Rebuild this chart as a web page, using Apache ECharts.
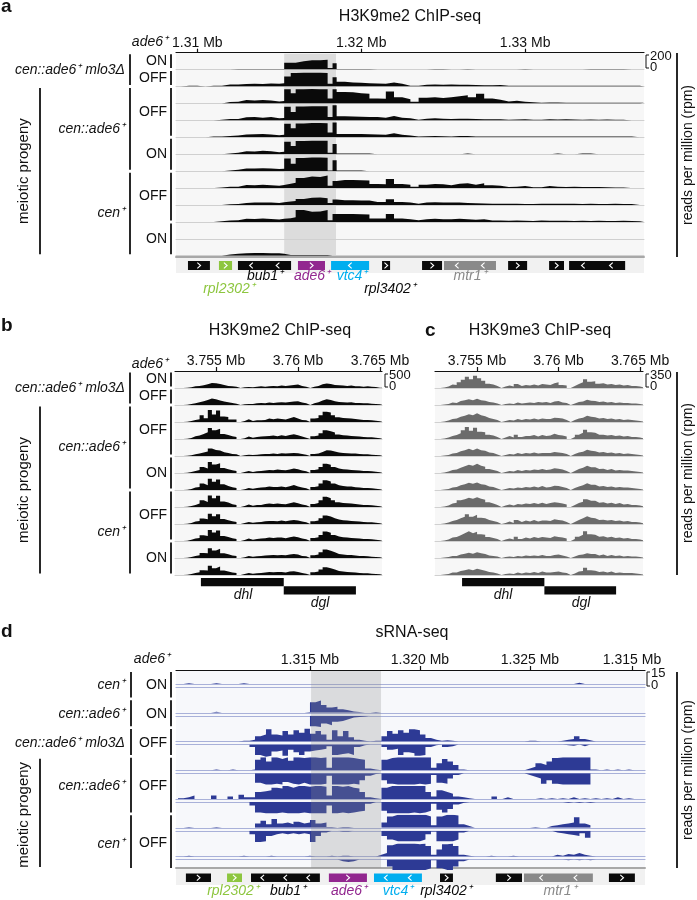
<!DOCTYPE html>
<html>
<head>
<meta charset="utf-8">
<title>ChIP-seq / sRNA-seq tracks</title>
<script src="https://cdn.jsdelivr.net/npm/echarts@6.0.0/dist/echarts.min.js"></script>
<style>
html,body{margin:0;padding:0;background:#ffffff;}
#chart{width:697px;height:900px;}
</style>
</head>
<body>
<div id="chart"></div>
<script>
// ====================== DATA ======================
// ---- Panel a: H3K9me2 ChIP-seq, ade6 locus (bin starts in kb; rpm, scale 0-200)
const binsA = [1308.6,1309,1309.5,1310,1310.5,1311,1311.5,1312,1312.5,1313,1313.5,1314,1314.5,1315,1315.3,1315.7,1316.0,1316.5,1317.0,1317.5,1317.95,1318.25,1318.5,1319,1319.5,1320,1320.5,1321,1321.5,1322,1322.5,1323,1323.5,1324,1324.5,1325,1325.5,1326,1326.5,1327,1327.5,1328,1328.5,1329,1329.5,1330,1330.5,1331,1331.5,1332,1332.5,1333,1333.5,1334,1334.5,1335,1335.5,1336,1336.5,1337];
const binsAEnd = 1337.25;
const a01_mlo3_ON  = [0,0,0,0,0,0,0,8,8,8, 8,8,8,8,80,80,100,110,112,118, 20,75,8,8,8,8,0,0,0,0, 0,0,0,8,8,0,0,8,0,0, 0,0,0,0,8,0,0,0,0,0, 0,0,8,8,8,8,8,0,0,0];
const a02_mlo3_OFF = [0,8,8,0,8,10,24,24,30,34, 30,36,34,40,120,160,164,164,164,160, 32,110,56,48,44,40,36,32,48,32, 10,8,20,24,22,24,20,22,18,16, 14,18,8,8,8,8,8,8,8,8, 8,8,8,8,8,8,8,8,8,0];
const a03_cenade6_OFF1 = [0,0,0,0,0,0,16,20,40,36, 40,34,24,30,168,120,168,170,168,168, 60,168,136,132,120,116,60,56,140,72, 50,20,68,72,66,74,84,96,72,116, 60,44,24,32,20,14,8,10,12,8, 8,8,8,8,8,8,8,8,8,8];
const a04_cenade6_OFF2 = [0,0,0,0,0,8,16,16,36,40, 32,40,24,28,160,100,164,168,168,166, 40,180,48,46,44,40,40,30,52,30, 24,8,20,24,20,16,18,20,16,14, 12,12,8,10,12,8,8,12,10,12, 10,8,10,8,10,8,8,0,0,0];
const a05_cenade6_OFF3 = [0,0,0,0,8,8,16,20,32,36, 40,34,24,30,160,108,164,168,168,166, 56,176,40,40,38,36,32,30,48,30, 20,8,12,14,12,10,14,16,10,8, 8,8,8,8,8,8,8,8,8,8, 8,8,8,8,8,8,8,8,0,0];
const a06_cenade6_ON1 = [0,0,0,0,0,0,8,16,36,32, 40,36,24,30,148,96,156,160,160,158, 16,120,8,8,8,8,0,0,0,0, 0,0,0,0,0,0,0,8,0,0, 0,0,0,0,0,0,0,0,8,0, 0,8,8,0,0,0,0,0,0,0];
const a07_cenade6_ON2 = [0,0,0,0,0,0,8,16,32,30, 34,32,24,28,148,88,156,160,160,158, 8,128,8,8,8,0,0,0,0,0, 0,0,0,0,0,0,0,0,0,0, 0,0,0,0,0,0,0,0,0,0, 0,0,0,0,0,0,0,0,0,0];
const a08_cen_OFF1 = [0,0,0,0,0,8,16,16,36,32, 40,32,28,36,52,64,120,136,132,148, 28,84,96,96,92,88,48,44,108,48, 40,16,40,48,44,32,52,56,40,56, 32,28,14,16,24,10,10,24,16,14, 16,12,14,12,10,8,8,0,0,0];
const a09_cen_OFF2 = [0,0,0,0,0,0,8,12,24,28, 30,28,24,32,40,48,72,84,88,80, 24,64,56,56,54,52,36,36,68,36, 30,16,28,32,30,28,28,24,20,18, 16,16,14,14,12,12,14,16,14,14, 14,12,14,12,12,14,12,12,0,0];
const a10_cen_OFF3 = [0,0,0,0,0,8,16,20,36,34, 40,34,28,36,44,56,140,120,124,140, 20,92,92,92,90,88,40,40,92,40, 32,20,32,36,30,32,36,32,24,32, 18,16,14,16,14,12,16,14,14,14, 12,14,12,14,12,12,14,12,8,0];
const a11_cen_ON1 = [0,0,0,0,0,0,0,0,0,0, 0,0,0,0,0,0,0,0,0,0, 0,0,0,0,0,0,0,0,0,0, 0,0,0,0,0,0,0,0,0,0, 0,0,0,0,0,0,0,0,0,0, 0,0,0,0,0,0,0,0,0,0];
const a12_cen_ON2 = [0,0,0,0,0,0,16,24,28,32, 32,30,28,24,8,8,10,8,8,8, 0,0,0,0,0,0,0,0,0,0, 0,0,0,0,0,0,0,0,0,0, 0,0,0,0,0,0,0,0,0,0, 0,0,0,0,0,0,0,0,0,0];
const shadeA = [1315.3, 1318.46];
const ticksA = [1310, 1320, 1330];
const tickLabelsA = ['1.31 Mb', '1.32 Mb', '1.33 Mb'];
// genes (kb) for panel a
const geneStartA = [1309.43,1311.32,1312.48,1316.14,1318.16,1321.27,1323.71,1325.05,1328.96,1331.46,1332.68];
const geneEndA   = [1310.77,1312.12,1315.72,1317.79,1320.48,1321.76,1324.93,1328.22,1330.12,1332.37,1336.10];
const geneStrandA = [1,1,-1,1,-1,1,1,-1,1,1,-1];
const geneChevA   = [1,1,2,1,1,1,1,2,1,1,2];
const geneColorA  = [0,1,0,2,3,0,0,4,0,0,0];

// ---- Panels b / c: dh-dg repeats (bin start 3752.5 kb, 0.25 kb bins)
const binStartBC = 3752.5, binStepBC = 0.25;
const b01 = [0,0,10,20,50,60,80,110,150,140, 120,90,60,50,40,0,20,30,20,40, 50,40,50,60,50,70,60,70,90,100, 60,40,0,40,60,110,130,120,90,80, 70,60,70,50,50,40,50,40,30,10, 0,10];
const b02 = [0,0,10,30,50,80,110,150,190,170, 130,100,80,60,40,0,20,30,30,50, 60,50,70,60,70,80,70,90,100,110, 70,50,0,50,80,130,170,150,110,90, 80,70,80,60,60,50,50,40,30,20, 0,10];
const b03 = [0,0,10,30,60,80,200,110,350,220, 340,160,150,70,70,0,30,80,30,50, 50,60,100,80,100,90,70,110,150,100, 60,50,0,100,120,200,300,280,200,140, 120,110,100,90,70,60,60,50,40,20, 0,10];
const b04 = [0,0,10,30,80,100,150,200,320,260, 300,150,120,80,60,0,20,70,40,60, 70,80,90,100,80,110,90,120,140,110, 70,40,0,80,100,170,260,230,190,130, 110,100,90,80,70,60,50,50,40,20, 0,10];
const b05 = [0,0,10,20,50,70,100,130,220,180, 160,110,90,60,50,0,20,40,30,40, 50,60,60,70,60,80,70,80,90,80, 60,40,0,60,70,120,170,160,130,100, 90,80,70,70,60,50,50,40,30,20, 0,10];
const b06 = [0,0,10,30,60,90,180,130,320,250, 290,150,110,80,60,0,30,60,30,50, 60,70,90,80,100,90,80,100,130,110, 70,50,0,90,110,180,270,240,180,130, 110,100,90,80,70,60,60,50,40,20, 0,10];
const b07 = [0,0,10,30,70,90,190,140,330,240, 310,170,120,80,60,0,20,60,40,60, 70,80,100,90,90,100,80,110,150,100, 70,50,0,90,110,190,290,250,190,140, 120,100,100,80,70,60,60,50,40,20, 0,10];
const b08 = [0,0,10,30,60,100,200,150,340,260, 330,160,130,80,60,0,30,70,40,60, 60,90,100,90,100,90,80,110,140,110, 70,50,0,90,120,200,300,260,200,140, 120,110,100,90,70,60,60,50,40,20, 0,10];
const b09 = [0,0,10,30,70,90,160,140,300,230, 290,150,110,80,60,0,30,60,40,50, 60,80,90,90,80,100,80,100,120,100, 70,50,0,80,100,170,250,220,170,130, 110,100,90,80,70,60,50,50,40,20, 0,10];
const b10 = [0,0,10,40,70,90,170,150,320,250, 310,150,120,80,60,0,30,70,40,60, 70,80,100,90,100,100,80,110,130,110, 70,50,0,90,110,180,280,240,180,130, 110,100,90,80,70,60,60,50,40,20, 0,10];
const b11 = [0,0,10,30,60,80,150,140,290,220, 270,140,110,70,60,0,20,60,40,50, 60,70,80,90,80,90,80,100,120,100, 60,50,0,80,100,170,250,210,170,120, 100,90,90,70,60,60,50,40,30,20, 0,10];
const b12 = [0,0,10,30,60,80,140,130,270,200, 250,130,100,70,60,0,30,60,40,50, 60,70,90,80,90,90,70,100,110,90, 60,40,0,80,100,160,230,200,160,120, 100,90,80,70,60,50,50,40,30,20, 0,10];
const c01 = [0,10,30,70,60,120,170,230,180,250, 200,150,90,70,40,0,30,50,30,80, 40,60,50,70,50,80,70,60,100,120, 60,50,0,40,80,120,180,130,140,90, 100,70,80,60,70,50,60,40,40,30, 10,0];
const c02 = [0,10,20,50,40,80,100,120,100,130, 100,90,60,50,30,0,20,30,20,50, 30,40,50,40,60,50,60,40,70,80, 50,40,0,30,60,70,110,90,80,60, 70,50,60,40,50,40,40,30,30,20, 10,0];
const c03 = [0,10,30,60,70,110,130,160,140,180, 140,120,80,60,40,0,20,40,30,60, 40,60,50,70,50,70,60,60,90,80, 70,40,0,40,70,90,130,110,100,70, 80,60,70,50,60,40,50,40,30,20, 10,0];
const c04 = [0,10,30,60,80,120,180,245,170,230, 150,140,90,70,40,0,30,60,30,90, 40,60,60,80,50,80,60,70,110,80, 70,50,0,40,90,130,190,140,130,90, 90,70,80,60,70,50,60,40,40,30, 10,0];
const c05 = [0,10,20,50,60,100,120,150,120,155, 120,110,70,60,30,0,20,40,30,60, 40,60,50,70,50,60,60,60,80,70, 60,40,0,40,70,90,130,110,100,70, 80,60,70,50,60,40,50,40,30,20, 10,0];
const c06 = [0,10,30,60,70,110,140,170,150,190, 150,130,80,60,40,0,20,40,30,60, 40,60,50,70,60,80,60,70,100,90, 70,40,0,40,80,110,150,120,120,80, 90,60,80,50,60,50,50,40,30,20, 10,0];
const c07 = [0,10,20,50,60,100,120,150,130,155, 120,110,70,60,30,0,20,40,30,50, 40,60,50,70,50,80,50,60,90,80, 60,40,0,40,70,100,140,110,110,70, 80,60,70,50,60,50,50,40,30,20, 10,0];
const c08 = [0,10,30,70,90,140,160,190,170,200, 170,150,100,70,40,0,30,50,30,60, 50,70,60,80,60,90,60,80,100,90, 70,50,0,40,80,110,160,130,130,90, 100,70,90,60,80,50,60,40,40,30, 10,0];
const c09 = [0,10,30,60,80,120,150,200,150,190, 130,120,80,60,40,0,20,50,20,80, 40,70,50,80,50,70,70,60,100,80, 70,40,0,40,80,120,160,130,120,80, 90,70,80,60,70,50,60,40,40,30, 10,0];
const c10 = [0,10,30,70,80,120,160,200,160,190, 140,130,80,60,40,0,30,50,30,90, 40,70,50,80,60,80,70,60,100,80, 70,50,0,40,90,130,200,140,130,90, 100,70,90,60,70,50,60,40,40,30, 10,0];
const c11 = [0,10,20,40,40,70,90,110,90,120, 100,80,50,40,30,0,20,30,20,40, 30,50,40,50,40,60,40,40,60,70, 50,30,0,30,60,70,100,80,80,50, 70,40,60,40,50,30,40,30,30,20, 10,0];
const c12 = [0,10,20,50,50,80,100,120,100,130, 110,90,60,50,30,0,20,30,20,50, 30,50,40,60,40,70,50,50,60,70, 50,40,0,30,70,80,150,100,90,60, 70,50,70,40,50,40,40,40,30,20, 10,0];
const ticksBC = [3755, 3760, 3765];
const tickLabelsBC = ['3.755 Mb', '3.76 Mb', '3.765 Mb'];
const repeatNames = ['dhl', 'dgl'];
const repeatStart = [3754.08, 3759.13];
const repeatEnd   = [3759.13, 3763.53];

// ---- Panel d: sRNA-seq (bin start 1309.0 kb, 0.25 kb bins; rpm, + strand up / - strand down, scale 0-15)
const binStartD = 1309.0, binStepD = 0.25;
const d1_cen_ON_plus  = [0,1,0,0,0,0,1,0,0,0, 0,1,0,0,0,0,0,0,0,0, 0,0,0,0,0,0,0,0,0,0, 0,0,0,0,0,0,0,0,0,0, 0,0,0,0,0,0,0,0,0,0, 0,0,0,0,0,0,0,0,0,0, 0,0,0,0,0,0,0,0,0,0, 0,0,1.5,0,0,0,0,0,0,0, 0,0,0,0];
const d1_cen_ON_minus = [0,0,0,0,0,0,0,0,0,0, 0,0,0,0,0,0,0,0,0,0, 0,0,0,0,0,0,0,0,0,0, 0,0,0,0,0,0,0,0,0,0, 0,0,0,0,0,0,0,0,0,0, 0,0,0,0,0,0,0,0,0,0, 0,0,0,0,0,0,0,0,0,0, 0,0,0,0,0,0,0,0,0,0, 0,0,0,0];
const d2_cenade6_ON_plus  = [0,0,0,0,0,0,1.2,0,0,0, 0,0,0,0,0,0,0,0,0,0, 0,0,0,0.8,12,14,9,6,7,4, 3,1.5,1,0,0,0.8,0,0,0,0, 0,0,0,0,0,0,0,0,0,0, 0,0,0,0,0,0,0,0,0,0, 0,0,0,0,0,0,0,0,0,0, 0,0,0,0,0,0,0,0,0,0, 0,0,0,0];
const d2_cenade6_ON_minus = [0,0,0,0,0,0,0,0,0,0, 0,0,0,0,0,0,0,0,0,0, 0,0,0,0,12,13,9,11,7,6, 4,2,1.5,0.8,0,0,0,0,0,0, 0,0,0,0,0,0,0,0,0,0, 0,0,0,0,0,0,0,0,0,0, 0,0,0,0,0,0,0,0,0,0, 0,0,0,0,0,0,0,0,0,0, 0,0,0,0];
const d3_mlo3_OFF_plus  = [0,0,0,0,0,0,0,0,0,0, 0,1,1,2,6,8,14,8,7,12, 8,13,10,15,9,12,8,2,13,6, 12,5,2,1,0,1,1,6,12,9, 13,10,14,13,8,4,2,1,1.5,1, 0,0,0,0,0,0,0,0,0,0, 0,0,0,1,1,0,0,0,0,1, 2,3,6,3,1.5,0,0,0,0,0, 0,0,0,0];
const d3_mlo3_OFF_minus = [0,0,0,0,0,0,0,0,0,0, 0,0,0,3,12,14,13,8,7,13, 6,9,12,8,7,6,5,2,12,11, 10,12,3,1,0,0,0,3,6,5, 12,9,10,13,12,3,1,0,3,2, 0,0,0,0,0,0,0,0,0,0, 0,0,0,0,0,0,0,0,0,0, 1,1.5,0,2,0,0,0,0,0,0, 0,0,0,0];
const d4_cenade6_OFF1_plus  = [0,0,0,0,0,0,1,0,0,1, 0,0,0,1,12,15,10,15,13,15, 11,15,14,15,15,14,15,3,15,15, 15,14,13,12,2,1,0,12,14,15, 15,15,15,15,15,15,3,8,13,10, 6,1,0,0,0,0,0,0,0,0, 0,0,0,2,4,8,6,10,14,15, 15,15,15,15,15,1,0,1,0,1, 0,1,0,0];
const d4_cenade6_OFF1_minus = [0,0,0,0,0,0,0,0,0,0, 0,0,0,0,11,13,13,12,13,10, 12,13,11,13,13,13,12,3,13,13, 13,12,13,8,3,1,0,8,12,13, 13,13,13,12,13,12,2,11,12,6, 2,0,0,0,0,0,0,0,0,0, 0,0,0,2,4,6,12,8,12,13, 13,13,13,13,13,0,0,0,0,0, 0,0,0,0];
const d5_cenade6_OFF2_plus  = [1,2,4,0,0,0,4,0,0,3, 0,5,2,2,8,9,10,13,12,15, 13,15,15,14,15,15,14,4,15,14, 15,13,12,8,2,1,0,13,15,15, 15,15,15,15,15,8,3,10,8,6, 3,2,1,0,0,0,0,3,0,2, 0,0,0,0,0,1,0,1,0,1, 0,2,0,1,0,1,0,1,0,2, 0,1,0,1];
const d5_cenade6_OFF2_minus = [0,0,0,0,0,0,0,0,0,0, 0,0,0,4,12,13,13,13,12,13, 13,13,12,13,13,13,13,4,13,12, 13,12,11,10,2,0,0,10,13,13, 13,13,12,13,12,10,2,9,12,8, 3,1,0,0,0,0,0,0,0,0, 0,0,0,0,0,0,0,0,0,0, 1,0,1,0,1,0,0,0,0,0, 0,0,0,0];
const d6_cen_OFF1_plus  = [0,1,0,0,0,0,1,0,0,0, 0,0,0,0,5,8,4,10,5,6, 4,7,5,6,9,5,6,1,0,1, 1,0,0,0,0,0,0,6,13,15, 15,15,15,15,15,13,3,13,15,15, 14,4,2,0,0,0,0,0,0,0, 0,0,0,0,1,0,0,2,3,4, 5,6,12,5,3,0,0,0,0,0, 0,0,0,0];
const d6_cen_OFF1_minus = [0,0,0,0,0,0,0,0,0,0, 0,0,0,4,13,12,6,4,3,4, 3,4,3,4,13,6,2,0,0,1, 1,0,0,0,0,0,0,6,10,12, 12,12,12,12,10,4,1,12,12,12, 10,2,0,0,0,0,0,0,0,0, 0,0,0,0,0,0,0,0,2,3, 4,5,6,3,8,0,0,0,0,0, 0,0,0,0];
const d7_cen_OFF2_plus  = [0,1,0,0,0,0,0,0,0,0, 0,1,0,0,0,0,1,0,0,0, 0,0,0,1,0,0,0,1,0,1, 1,0,0,0,0,0,2,4,13,15, 15,15,15,14,15,12,2,8,14,15, 12,2,1,0,0,0,1,0,0,0, 1,0,0,0,0,0,0,0,2,1, 3,2,4,2,1,0,0,0,0,0, 0,0,0,0];
const d7_cen_OFF2_minus = [0,0,0,0,0,0,0,0,0,0, 0,0,0,0,0,0,0,0,0,0, 0,0,0,0,0,0,0,0,0,2, 3,2,0,0,0,0,0,0,8,12, 12,12,12,12,12,10,1,10,12,12, 8,2,0,0,0,0,0,0,0,0, 0,0,0,0,0,0,0,0,0,0, 1,0,1,0,1,0,0,0,0,0, 0,0,0,0];
const shadeD = [1315.05, 1318.23];
const ticksD = [1315, 1320, 1325, 1329.64];
const tickLabelsD = ['1.315 Mb', '1.320 Mb', '1.325 Mb', '1.315 Mb'];
const geneStartD = [1309.36,1311.23,1312.32,1315.86,1317.91,1320.91,1323.45,1324.73,1328.59];
const geneEndD   = [1310.50,1311.91,1315.45,1317.59,1320.09,1321.50,1324.64,1327.86,1329.77];
const geneStrandD = [1,1,-1,1,-1,1,1,-1,1];
const geneChevD   = [1,1,3,1,2,1,1,2,1];
const geneColorD  = [0,1,0,2,3,0,0,4,0];

// labels
const geneLabelText  = ['rpl2302⁺','bub1⁺','ade6⁺','vtc4⁺','rpl3402⁺','mtr1⁺'];
const geneLabelColor = [1,0,2,3,0,4];
const chipGroups = [
  {geno:'cen::ade6⁺ mlo3Δ', parts:[['ON',1],['OFF',1]]},
  {geno:'cen::ade6⁺', parts:[['OFF',3],['ON',2]]},
  {geno:'cen⁺', parts:[['OFF',3],['ON',2]]}
];
const srnaRows = [
  {geno:'cen⁺', state:'ON', t0:0, t1:0},
  {geno:'cen::ade6⁺', state:'ON', t0:1, t1:1},
  {geno:'cen::ade6⁺ mlo3Δ', state:'OFF', t0:2, t1:2},
  {geno:'cen::ade6⁺', state:'OFF', t0:3, t1:4},
  {geno:'cen⁺', state:'OFF', t0:5, t1:6}
];

// ====================== BUILD ======================
const FONT = '"Liberation Sans", Arial, Helvetica, sans-serif';
const GENE_COLORS = ['#0a0a0a', '#8dc63f', '#92278f', '#00aeef', '#8a8a8a'];
const grid = [], xAxis = [], yAxis = [], series = [], graphic = [];

function addGrid(rect, xa, ya) {
  grid.push(Object.assign({borderWidth: 0, outerBoundsMode: 'none'}, rect));
  const gi = grid.length - 1;
  xAxis.push(Object.assign({gridIndex: gi, type: 'value', show: false}, xa));
  yAxis.push(Object.assign({gridIndex: gi, type: 'value', show: false}, ya));
  return gi;
}
function sepX(min, max, color, pos, w) {
  return {min, max, show: true, position: pos || 'bottom', z: 2,
    axisLine: {show: true, onZero: false, lineStyle: {color, width: w || 1}},
    axisTick: {show: false}, axisLabel: {show: false}, splitLine: {show: false}};
}
function topAxis(min, max, ticks, labels) {
  const fmt = v => { let k = 0, b = Infinity; ticks.forEach((t, i) => { const d = Math.abs(t - v); if (d < b) { b = d; k = i; } }); return labels[k]; };
  return {min, max, show: true, position: 'top', z: 4,
    axisLine: {show: true, onZero: false, lineStyle: {color: '#111', width: 1.2}},
    axisTick: {show: true, length: 4, customValues: ticks, lineStyle: {color: '#111', width: 1.2}},
    axisLabel: {show: true, customValues: ticks, formatter: fmt, fontSize: 14, color: '#111', fontFamily: FONT, margin: 3},
    splitLine: {show: false}};
}
function stepData(starts, vals, end, sign) {
  const d = starts.map((x, i) => [x, sign * vals[i]]);
  d.push([end, sign * vals[vals.length - 1]]);
  return d;
}
function uniformStarts(start, step, n) { const s = []; for (let i = 0; i < n; i++) s.push(+(start + i * step).toFixed(4)); return s; }
function areaSeries(gi, data, color, z) {
  return {type: 'line', xAxisIndex: gi, yAxisIndex: gi, data, step: 'end', symbol: 'none', showSymbol: false,
    lineStyle: {width: 0, opacity: 0, color}, itemStyle: {color}, areaStyle: {color, opacity: 1},
    silent: true, z: z || 3, clip: true, animation: false};
}
function shadeSeries(gi, range, fill, z, topPad) {
  return {type: 'custom', xAxisIndex: gi, yAxisIndex: gi, data: [range], silent: true, z, clip: true, animation: false,
    renderItem: (p, api) => {
      const x0 = api.coord([api.value(0), 0])[0], x1 = api.coord([api.value(1), 0])[0];
      const cs = p.coordSys;
      return {type: 'rect', shape: {x: x0, y: cs.y + topPad, width: x1 - x0, height: cs.height - topPad}, style: {fill}};
    }};
}
function geneSeries(gi, starts, ends, strands, chev, cols, boxTop, boxH) {
  const data = starts.map((s, i) => [s, ends[i], cols[i], strands[i], chev[i]]);
  return {type: 'custom', xAxisIndex: gi, yAxisIndex: gi, data, silent: true, z: 3, animation: false,
    renderItem: (p, api) => {
      const x0 = api.coord([api.value(0), 0])[0], x1 = api.coord([api.value(1), 0])[0];
      const cs = p.coordSys;
      const y0 = cs.y + boxTop, cy = y0 + boxH / 2;
      const children = [{type: 'rect', shape: {x: x0, y: y0, width: x1 - x0, height: boxH}, style: {fill: GENE_COLORS[api.value(2)]}}];
      const dir = api.value(3), n = api.value(4);
      for (let k = 0; k < n; k++) {
        const cx = x0 + (x1 - x0) * (k + 0.5) / n, w = 1.6, hh = 2.8;
        const pts = dir > 0 ? [[cx - w, cy - hh], [cx + w, cy], [cx - w, cy + hh]] : [[cx + w, cy - hh], [cx - w, cy], [cx + w, cy + hh]];
        children.push({type: 'polyline', shape: {points: pts}, style: {stroke: '#ffffff', lineWidth: 1.1, fill: null}});
      }
      return {type: 'group', children};
    }};
}
function repeatSeries(gi, starts, ends, rowH) {
  const data = starts.map((s, i) => [s, ends[i], i]);
  return {type: 'custom', xAxisIndex: gi, yAxisIndex: gi, data, silent: true, z: 3, animation: false,
    renderItem: (p, api) => {
      const x0 = api.coord([api.value(0), 0])[0], x1 = api.coord([api.value(1), 0])[0];
      const cs = p.coordSys;
      return {type: 'rect', shape: {x: x0, y: cs.y + 1 + api.value(2) * rowH, width: x1 - x0, height: rowH}, style: {fill: '#0a0a0a'}};
    }};
}
function txt(x, y, text, o) {
  o = o || {};
  graphic.push({type: 'text', x, y, rotation: o.rot || 0, silent: true, z: 20,
    style: {text, fill: o.color || '#111', font: (o.italic ? 'italic ' : '') + (o.bold ? 'bold ' : '') + (o.size || 14) + 'px ' + FONT,
      align: o.align || 'center', verticalAlign: o.va || 'middle'}});
}
function ln(x1, y1, x2, y2, w, c) {
  graphic.push({type: 'line', silent: true, z: 20, shape: {x1, y1, x2, y2}, style: {stroke: c || '#111', lineWidth: w || 1.8}});
}
function bracket(x, y0, y1, top, bottom) {
  graphic.push({type: 'polyline', silent: true, z: 20, shape: {points: [[x + 3, y0], [x, y0], [x, y1], [x + 3, y1]]}, style: {stroke: '#111', lineWidth: 1, fill: null}});
  txt(x + 4, y0 + 1, top, {align: 'left', size: 13});
  txt(x + 4, y1 - 1, bottom, {align: 'left', size: 13});
}
function chipRowLabels(T, h) {
  let s = 0;
  chipGroups.forEach(g => {
    const n = g.parts.reduce((a, p) => a + p[1], 0);
    txt(125, T + h * (s + n / 2), g.geno, {italic: true, align: 'right'});
    ln(130, T + h * s + 1.5, 130, T + h * (s + n) - 1.5);
    let t = s;
    g.parts.forEach(p => {
      txt(167, T + h * (t + p[1] / 2), p[0], {align: 'right'});
      ln(171, T + h * t + 1.5, 171, T + h * (t + p[1]) - 1.5);
      t += p[1];
    });
    s += n;
  });
  ln(40, T + h * 2 + 1.5, 40, T + h * 12 - 1.5);
  txt(24, T + h * 7, 'meiotic progeny', {rot: Math.PI / 2, size: 15});
}

// ---------- Panel a ----------
const A = {left: 176, width: 468, top: 52.7, h: 16.92, min: 1308.7, max: 1337.25};
const tracksA = [a01_mlo3_ON, a02_mlo3_OFF, a03_cenade6_OFF1, a04_cenade6_OFF2, a05_cenade6_OFF3, a06_cenade6_ON1, a07_cenade6_ON2, a08_cen_OFF1, a09_cen_OFF2, a10_cen_OFF3, a11_cen_ON1, a12_cen_ON2];
const bgA = addGrid({left: A.left, top: A.top, width: A.width, height: A.h * 12, show: true, backgroundColor: '#f7f7f7'}, topAxis(A.min, A.max, ticksA, tickLabelsA), {min: 0, max: 1});
series.push(shadeSeries(bgA, shadeA, '#dcdcdc', 1, 1));
tracksA.forEach((vals, k) => {
  const gi = addGrid({left: A.left, top: A.top + k * A.h, width: A.width, height: A.h}, sepX(A.min, A.max, '#d0d0d0'), {min: 0, max: 200});
  series.push(areaSeries(gi, stepData(binsA, vals, binsAEnd, 1), '#0a0a0a', 3));
});
const gA = addGrid({left: A.left, top: 257, width: A.width, height: 16, show: true, backgroundColor: '#f1f1f1'}, sepX(A.min, A.max, '#a8a8a8', 'top', 2), {min: 0, max: 1});
series.push(geneSeries(gA, geneStartA, geneEndA, geneStrandA, geneChevA, geneColorA, 4, 9));

// ---------- Panels b & c ----------
const BC = {top: 371, h: 17.0};
const binsBC = uniformStarts(binStartBC, binStepBC, b01.length);
const binsBCEnd = binStartBC + binStepBC * b01.length;
const panelB = {left: 175, width: 207, min: 3752.5, max: 3765.12, tracks: [b01,b02,b03,b04,b05,b06,b07,b08,b09,b10,b11,b12], max_y: 500, color: '#0a0a0a'};
const panelC = {left: 435, width: 208, min: 3752.42, max: 3765.18, tracks: [c01,c02,c03,c04,c05,c06,c07,c08,c09,c10,c11,c12], max_y: 350, color: '#6b6b6b'};
[panelB, panelC].forEach(P => {
  addGrid({left: P.left, top: BC.top, width: P.width, height: BC.h * 12, show: true, backgroundColor: '#f7f7f7'}, topAxis(P.min, P.max, ticksBC, tickLabelsBC), {min: 0, max: 1});
  P.tracks.forEach((vals, k) => {
    const gi = addGrid({left: P.left, top: BC.top + k * BC.h, width: P.width, height: BC.h}, sepX(P.min, P.max, '#d0d0d0'), {min: 0, max: P.max_y});
    series.push(areaSeries(gi, stepData(binsBC, vals, binsBCEnd, 1), P.color, 3));
  });
  const gr = addGrid({left: P.left, top: 577, width: P.width, height: 18}, {min: P.min, max: P.max}, {min: 0, max: 1});
  series.push(repeatSeries(gr, repeatStart, repeatEnd, 8.2));
});

// ---------- Panel d ----------
const D = {left: 176, width: 469, top: 670, bottom: 868, min: 1308.91, max: 1330.23, bl0: 685.5, blStep: 28.75, half: 13, gap: 1.5};
const tracksD = [
  [d1_cen_ON_plus, d1_cen_ON_minus],
  [d2_cenade6_ON_plus, d2_cenade6_ON_minus],
  [d3_mlo3_OFF_plus, d3_mlo3_OFF_minus],
  [d4_cenade6_OFF1_plus, d4_cenade6_OFF1_minus],
  [d5_cenade6_OFF2_plus, d5_cenade6_OFF2_minus],
  [d6_cen_OFF1_plus, d6_cen_OFF1_minus],
  [d7_cen_OFF2_plus, d7_cen_OFF2_minus]
];
const binsD = uniformStarts(binStartD, binStepD, d1_cen_ON_plus.length);
const binsDEnd = binStartD + binStepD * d1_cen_ON_plus.length;
const BLUE = '#2d3a95', BASE_BLUE = '#a9b1d9';
const bgD = addGrid({left: D.left, top: D.top, width: D.width, height: D.bottom - D.top, show: true, backgroundColor: '#f7f8fb'}, topAxis(D.min, D.max, ticksD, tickLabelsD), {min: 0, max: 1});
const BL = tracksD.map((t, k) => D.bl0 + k * D.blStep);
tracksD.forEach((pair, k) => {
  const bl = BL[k];
  const gp = addGrid({left: D.left, top: bl - D.gap - D.half, width: D.width, height: D.half}, sepX(D.min, D.max, BASE_BLUE, 'bottom', 1.2), {min: 0, max: 15});
  const gm = addGrid({left: D.left, top: bl + D.gap, width: D.width, height: D.half}, sepX(D.min, D.max, BASE_BLUE, 'top', 1.2), {min: -15, max: 0});
  series.push(areaSeries(gp, stepData(binsD, pair[0], binsDEnd, 1), BLUE, 3));
  series.push(areaSeries(gm, stepData(binsD, pair[1], binsDEnd, -1), BLUE, 3));
});
series.push(shadeSeries(bgD, shadeD, 'rgba(140,140,140,0.27)', 8, 1));
const gD = addGrid({left: D.left, top: 868, width: D.width, height: 17, show: true, backgroundColor: '#f1f1f1'}, sepX(D.min, D.max, '#a8a8a8', 'top', 2), {min: 0, max: 1});
series.push(geneSeries(gD, geneStartD, geneEndD, geneStrandD, geneChevD, geneColorD, 5.5, 8.5));

// ---------- Text / annotations ----------
txt(1, 7, 'a', {bold: true, size: 19, align: 'left'});
txt(410, 17, 'H3K9me2 ChIP-seq', {size: 16});
txt(1, 326, 'b', {bold: true, size: 19, align: 'left'});
txt(280, 331, 'H3K9me2 ChIP-seq', {size: 16});
txt(425, 331, 'c', {bold: true, size: 19, align: 'left'});
txt(540, 331, 'H3K9me3 ChIP-seq', {size: 16});
txt(1, 632, 'd', {bold: true, size: 19, align: 'left'});
txt(412, 633, 'sRNA-seq', {size: 16});
txt(168, 42, 'ade6⁺', {italic: true, align: 'right'});
txt(168, 364, 'ade6⁺', {italic: true, align: 'right'});
txt(170, 659, 'ade6⁺', {italic: true, align: 'right'});
chipRowLabels(A.top, A.h);
chipRowLabels(BC.top, BC.h);
srnaRows.forEach(r => {
  const top = Math.max(D.top + 2, BL[r.t0] - 14), bot = Math.min(D.bottom, BL[r.t1] + 12);
  const cy = (BL[r.t0] + BL[r.t1]) / 2;
  txt(125, cy, r.geno, {italic: true, align: 'right'});
  ln(131, top, 131, bot);
  txt(167, cy, r.state, {align: 'right'});
  ln(171, top, 171, bot);
});
ln(40, BL[3] - 13, 40, D.bottom - 1);
txt(24, (BL[3] + BL[6]) / 2, 'meiotic progeny', {rot: Math.PI / 2, size: 15});
bracket(646, 55, 68, '200', '0');
bracket(385, 374, 387, '500', '0');
bracket(646, 374, 387, '350', '0');
bracket(647, 672, 686, '15', '0');
ln(677, 53, 677, 257);
txt(688, 155, 'reads per million (rpm)', {rot: Math.PI / 2});
ln(677, 372, 677, 575);
txt(688, 473, 'reads per million (rpm)', {rot: Math.PI / 2});
ln(677, 672, 677, 868);
txt(688, 770, 'reads per million (rpm)', {rot: Math.PI / 2});
const geneLabelPosA = [[229, 289], [265, 276], [312, 276], [352, 276], [390, 289], [470, 276]];
const geneLabelPosD = [[233, 891], [288, 891], [349, 891], [398, 891], [446, 891], [560, 891]];
geneLabelText.forEach((t, i) => {
  txt(geneLabelPosA[i][0], geneLabelPosA[i][1], t, {italic: true, color: GENE_COLORS[geneLabelColor[i]]});
  txt(geneLabelPosD[i][0], geneLabelPosD[i][1], t, {italic: true, color: GENE_COLORS[geneLabelColor[i]]});
});
txt(243, 595, repeatNames[0], {italic: true});
txt(320, 603, repeatNames[1], {italic: true});
txt(503, 595, repeatNames[0], {italic: true});
txt(581, 603, repeatNames[1], {italic: true});

const chart = echarts.init(document.getElementById('chart'), null, {renderer: 'canvas'});
chart.setOption({
  animation: false,
  backgroundColor: '#ffffff',
  textStyle: {fontFamily: FONT},
  grid, xAxis, yAxis, series, graphic
});
</script>
</body>
</html>
